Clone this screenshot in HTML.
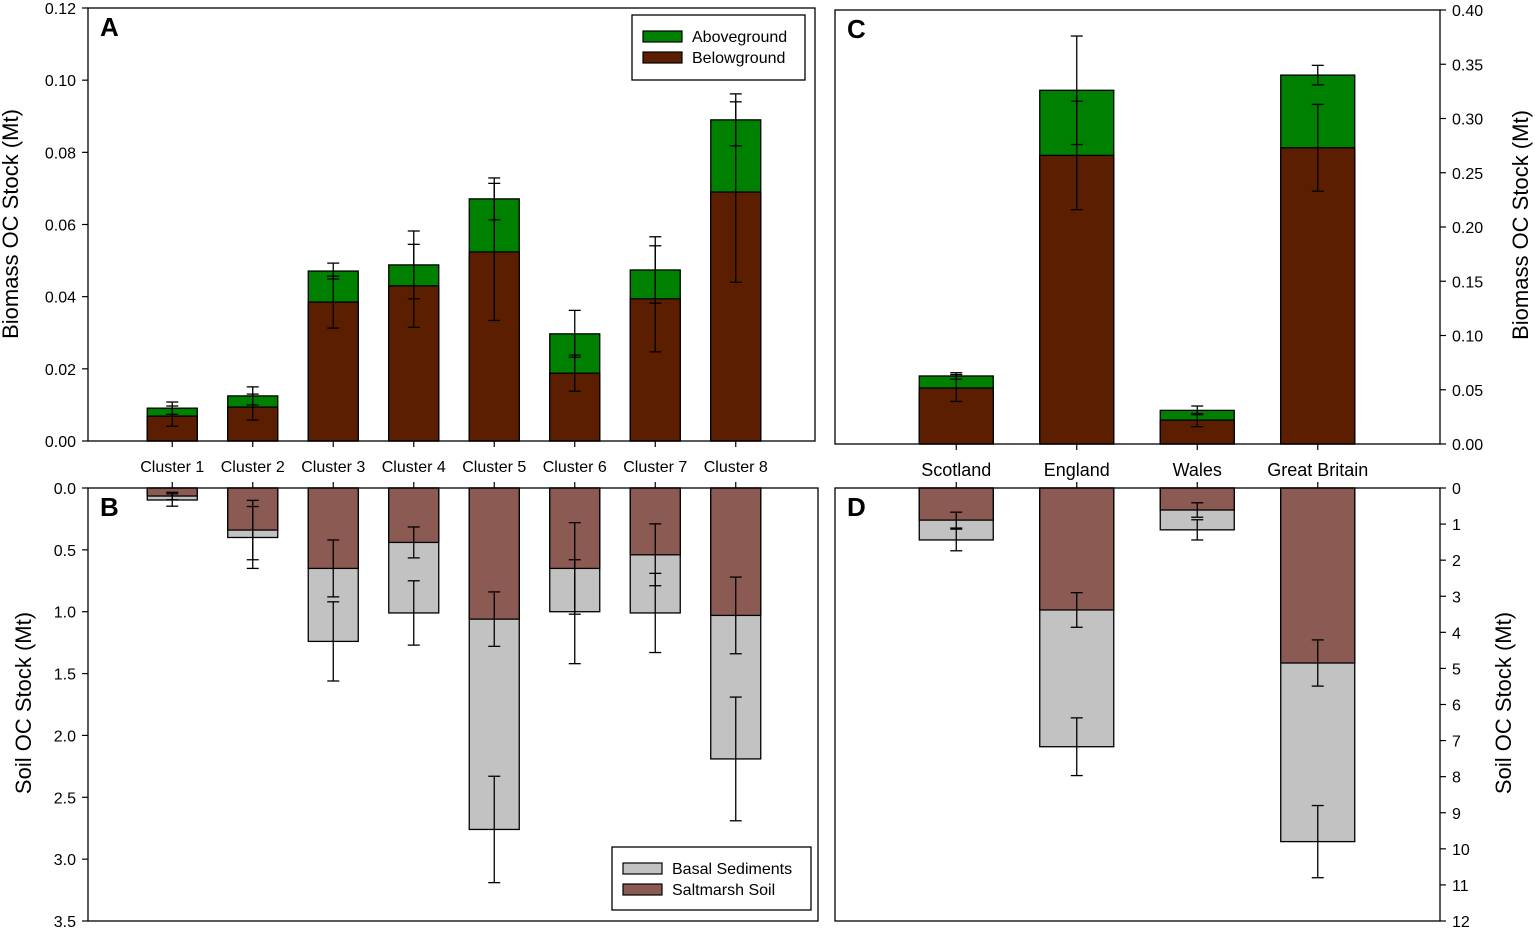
<!DOCTYPE html>
<html><head><meta charset="utf-8"><style>
html,body{margin:0;padding:0;background:#fff;}
svg{display:block;font-family:"Liberation Sans",Arial,sans-serif;}
</style></head><body>
<svg id="chart" width="1535" height="930" viewBox="0 0 1535 930" xmlns="http://www.w3.org/2000/svg"></svg>
<script>
const clusters=["Cluster 1","Cluster 2","Cluster 3","Cluster 4","Cluster 5","Cluster 6","Cluster 7","Cluster 8"];
const aTotal=[0.0091,0.0125,0.0471,0.0488,0.0671,0.0297,0.0474,0.089];
const aTotalErr=[0.0017,0.0025,0.0022,0.0094,0.0058,0.0065,0.0092,0.0072];
const aBelow=[0.0069,0.0094,0.0385,0.0430,0.0524,0.0188,0.0394,0.069];
const aBelowErr=[0.0028,0.0036,0.0072,0.0115,0.019,0.005,0.0147,0.025];
const bSalt=[0.065,0.34,0.65,0.44,1.06,0.65,0.54,1.03];
const bSaltErr=[0.03,0.24,0.23,0.125,0.22,0.37,0.25,0.31];
const bTotal=[0.097,0.40,1.24,1.01,2.76,1.0,1.01,2.19];
const bTotalErr=[0.05,0.25,0.32,0.26,0.43,0.42,0.32,0.5];
const regions=["Scotland","England","Wales","Great Britain"];
const cTotal=[0.0627,0.326,0.031,0.340];
const cTotalErr=[0.003,0.05,0.004,0.009];
const cBelow=[0.0516,0.266,0.022,0.273];
const cBelowErr=[0.0124,0.05,0.006,0.04];
const dSalt=[0.89,3.38,0.61,4.85];
const dSaltErr=[0.22,0.48,0.2,0.64];
const dTotal=[1.44,7.17,1.16,9.8];
const dTotalErr=[0.3,0.8,0.28,1.0];
const aTicks=["0.00","0.02","0.04","0.06","0.08","0.10","0.12"];
const bTicks=["0.0","0.5","1.0","1.5","2.0","2.5","3.0","3.5"];
const cTicks=["0.00","0.05","0.10","0.15","0.20","0.25","0.30","0.35","0.40"];
const dTicks=["0","1","2","3","4","5","6","7","8","9","10","11","12"];

const svg=document.getElementById('chart');
const NS="http://www.w3.org/2000/svg";
function mk(tag,attrs,parent){const e=document.createElementNS(NS,tag);for(const k in attrs)e.setAttribute(k,attrs[k]);(parent||svg).appendChild(e);return e;}
const GREEN="#008000",BROWN="#5c1e00",SALT="#8b5a52",BASAL="#c2c2c2";

function panel(p){
  const g=mk('g',{});
  
  
  const n=p.cats.length;
  const band=p.band, x0=p.x0;
  const cx=i=>x0+band*(i+0.5);
  const y=v=>p.inv? p.y0+(v/p.max)*(p.y1-p.y0) : p.y1-(v/p.max)*(p.y1-p.y0);
  for(let i=0;i<n;i++){
    const c=cx(i),w=p.bw;
    const r1=mk('rect',{x:c-w/2,y:Math.min(y(0),y(p.tot[i])),width:w,height:Math.abs(y(p.tot[i])-y(0)),fill:p.col2,stroke:"#000","stroke-width":1.3},g);
    
    
    const r2=mk('rect',{x:c-w/2,y:Math.min(y(0),y(p.lo[i])),width:w,height:Math.abs(y(p.lo[i])-y(0)),fill:p.col1,stroke:"#000","stroke-width":1.3},g);
    
    
    [[p.lo[i],p.loE[i]],[p.tot[i],p.totE[i]]].forEach(([v,e])=>{
      const ya=y(v-e),yb=y(v+e);
      const l=mk('line',{x1:c,x2:c,y1:ya,y2:yb,stroke:"#000","stroke-width":1.3},g);
      
      
      mk('line',{x1:c-6,x2:c+6,y1:ya,y2:ya,stroke:"#000","stroke-width":1.3},g);
      mk('line',{x1:c-6,x2:c+6,y1:yb,y2:yb,stroke:"#000","stroke-width":1.3},g);
    });
    const ty=p.inv?p.y0:p.y1, d=p.inv?-6:6;
    mk('line',{x1:c,x2:c,y1:ty,y2:ty+d,stroke:"#000","stroke-width":1.2},g);
  }
  mk('rect',{x:p.fx0,y:p.y0,width:p.fx1-p.fx0,height:p.y1-p.y0,fill:"none",stroke:"#000","stroke-width":1.3},g);
  p.ticks.forEach((t,i)=>{
    const v=i*p.max/(p.ticks.length-1), yy=y(v);
    const ax=p.right?p.fx1:p.fx0, d=p.right?6:-6;
    mk('line',{x1:ax,x2:ax+d,y1:yy,y2:yy,stroke:"#000","stroke-width":1.2},g);
    const tx=mk('text',{x:p.right?ax+12:ax-12,y:yy+6,"text-anchor":p.right?"start":"end","font-size":16},g);
    tx.textContent=t;
    
    
  });
  const L=mk('text',{x:p.fx0+12,y:p.y0+28,"font-size":26,"font-weight":"bold"},g);
  L.textContent=p.letter;
  
  
  if(p.title){
    const ttx=p.tx, tty=p.ty;
    const T=mk('text',{x:ttx,y:tty,"font-size":22,"text-anchor":"middle",transform:`rotate(-90 ${ttx} ${tty})`},g);
    T.textContent=p.title;
    
    
  }
  if(p.labels){
    p.cats.forEach((c,i)=>{
      const t=mk('text',{x:cx(i),y:p.ly,"text-anchor":"middle","font-size":p.lfs},g);
      t.textContent=c;
      
      
    });
  }
}
panel({name:'panel-a',cats:clusters,x0:132,band:80.5,bw:50,y0:8,y1:441,max:0.12,inv:false,tot:aTotal,totE:aTotalErr,lo:aBelow,loE:aBelowErr,col1:BROWN,col2:GREEN,fx0:88,fx1:815,ticks:aTicks,letter:'A',title:'Biomass OC Stock (Mt)',tx:18,ty:224,labels:true,ly:472,lfs:16});
panel({name:'panel-b',cats:clusters,x0:132,band:80.5,bw:50,y0:488,y1:921,max:3.5,inv:true,tot:bTotal,totE:bTotalErr,lo:bSalt,loE:bSaltErr,col1:SALT,col2:BASAL,fx0:88,fx1:818,ticks:bTicks,letter:'B',title:'Soil OC Stock (Mt)',tx:31,ty:703,labels:false});
panel({name:'panel-c',cats:regions,x0:896,band:120.5,bw:74,y0:10,y1:444,max:0.40,inv:false,tot:cTotal,totE:cTotalErr,lo:cBelow,loE:cBelowErr,col1:BROWN,col2:GREEN,fx0:835,fx1:1440,ticks:cTicks,letter:'C',title:'Biomass OC Stock (Mt)',tx:1528,ty:225,labels:true,ly:476,lfs:18,right:true});
panel({name:'panel-d',cats:regions,x0:896,band:120.5,bw:74,y0:488,y1:921,max:12,inv:true,tot:dTotal,totE:dTotalErr,lo:dSalt,loE:dSaltErr,col1:SALT,col2:BASAL,fx0:835,fx1:1440,ticks:dTicks,letter:'D',title:'Soil OC Stock (Mt)',tx:1511,ty:703,labels:false,right:true});

function legend(name,x,y,w,h,items){
  const g=mk('g',{});
  
  
  mk('rect',{x:x,y:y,width:w,height:h,fill:"#fff",stroke:"#000","stroke-width":1.3},g);
  items.forEach((it,i)=>{
    const yy=y+16+i*21;
    const r=mk('rect',{x:x+11,y:yy,width:39,height:11,fill:it[1],stroke:"#000","stroke-width":1.2},g);
    
    
    const t=mk('text',{x:x+60,y:yy+11,"font-size":16},g);
    t.textContent=it[0];
    
    
  });
}
legend('legend-biomass',632,15,173,65,[["Aboveground",GREEN],["Belowground",BROWN]]);
legend('legend-soil',612,847,199,63,[["Basal Sediments",BASAL],["Saltmarsh Soil",SALT]]);
</script>
</body></html>
